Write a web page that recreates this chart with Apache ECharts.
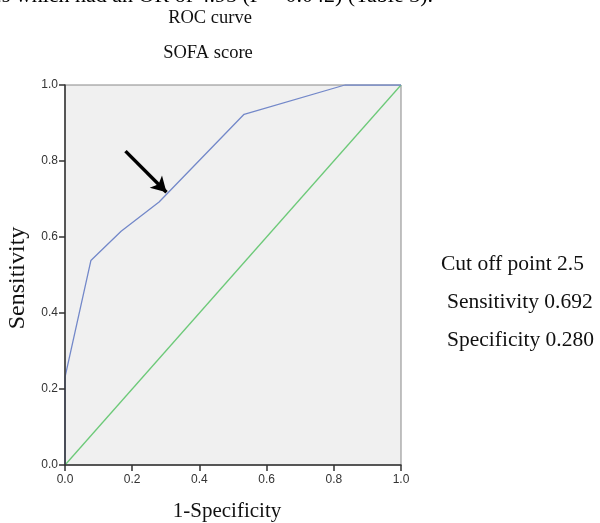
<!DOCTYPE html>
<html>
<head>
<meta charset="utf-8">
<script src="https://cdn.jsdelivr.net/npm/echarts@6/dist/echarts.min.js"></script>
<style>html,body{margin:0;padding:0;background:#fff}#c{width:600px;height:523px}</style>
</head>
<body>
<div id="c"></div>
<script>
// ROC curve data (1-Specificity, Sensitivity)
var rocFpr = [0, 0, 0.077, 0.167, 0.28, 0.533, 0.833, 1];
var rocTpr = [0, 0.231, 0.538, 0.615, 0.692, 0.923, 1, 1];
var refFpr = [0, 1];
var refTpr = [0, 1];
var tickValues = [0, 0.2, 0.4, 0.6, 0.8, 1.0];
var arrowFrom = [0.18, 0.826];
var arrowTo = [0.302, 0.718];
var titleLines = ['ROC curve', 'SOFA score'];
var noteLines = ['Cut off point 2.5', 'Sensitivity 0.692', 'Specificity 0.280'];
var paperLine = 'es which had an OR of 4.95 (P = 0.042) (Table 3).';

function zip(a, b) { return a.map(function (v, i) { return [v, b[i]]; }); }

var chart = echarts.init(document.getElementById('c'), null, {renderer: 'canvas'});
var serif = '"Liberation Serif", "Times New Roman", serif';
var axisCommon = {
  type: 'value', min: 0, max: 1, interval: 0.2, z: 10,
  axisLine: {show: true, lineStyle: {color: '#333', width: 1.5}},
  axisTick: {show: true, length: 6, lineStyle: {color: '#333', width: 1.5}},
  axisLabel: {color: '#333', fontFamily: 'Arial, "Liberation Sans", sans-serif', fontSize: 12,
    formatter: function (v) { return v.toFixed(1); }},
  splitLine: {show: false}
};
chart.setOption({
  animation: false,
  backgroundColor: '#fff',
  grid: {left: 65, right: 199, top: 85, bottom: 58, show: true, backgroundColor: '#f0f0f0', borderColor: '#888', borderWidth: 1},
  xAxis: Object.assign({}, axisCommon, {axisLabel: Object.assign({}, axisCommon.axisLabel, {margin: 9})}),
  yAxis: Object.assign({}, axisCommon, {axisLabel: Object.assign({}, axisCommon.axisLabel, {margin: 7})}),
  graphic: [
    {type: 'text', x: 433, y: 7, style: {text: paperLine, font: '22px ' + serif, fill: '#000', textAlign: 'right', textVerticalAlign: 'bottom'}},
    {type: 'text', x: 210, y: 18, style: {text: titleLines[0], font: '18.5px ' + serif, fill: '#111', textAlign: 'center', textVerticalAlign: 'middle'}},
    {type: 'text', x: 208, y: 53, style: {text: titleLines[1], font: '18.5px ' + serif, fill: '#111', textAlign: 'center', textVerticalAlign: 'middle'}},
    {type: 'text', x: 18, y: 278, rotation: Math.PI / 2, style: {text: 'Sensitivity', font: '24px ' + serif, fill: '#111', textAlign: 'center', textVerticalAlign: 'middle'}},
    {type: 'text', x: 227, y: 511, style: {text: '1-Specificity', font: '21px ' + serif, fill: '#111', textAlign: 'center', textVerticalAlign: 'middle'}},
    {type: 'text', x: 441, y: 264, style: {text: noteLines[0], font: '21.5px ' + serif, fill: '#111', textAlign: 'left', textVerticalAlign: 'middle'}},
    {type: 'text', x: 447, y: 302, style: {text: noteLines[1], font: '21.5px ' + serif, fill: '#111', textAlign: 'left', textVerticalAlign: 'middle'}},
    {type: 'text', x: 447, y: 340, style: {text: noteLines[2], font: '21.5px ' + serif, fill: '#111', textAlign: 'left', textVerticalAlign: 'middle'}}
  ],
  series: [
    {type: 'line', data: zip(refFpr, refTpr), showSymbol: false, lineStyle: {color: '#6cc978', width: 1.3}, z: 2},
    {type: 'line', data: zip(rocFpr, rocTpr), showSymbol: false, lineStyle: {color: '#7388c9', width: 1.3}, z: 3,
      markLine: {silent: true, symbol: ['none', 'arrow'], symbolSize: [13, 15], label: {show: false},
        lineStyle: {color: '#000', width: 3.5, type: 'solid'},
        data: [[{coord: arrowFrom}, {coord: arrowTo}]]}}
  ]
});
</script>
</body>
</html>
